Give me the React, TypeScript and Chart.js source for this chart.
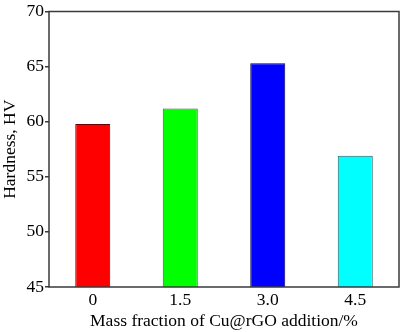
import React, { useEffect, useRef } from "react";
import { Chart, registerables } from "chart.js";

Chart.register(...registerables);

const categories = ["0", "1.5", "3.0", "4.5"];
const hardness = [59.8, 61.2, 65.3, 56.9];
const barColors = ["#ff0000", "#00ff00", "#0000ff", "#00ffff"];
const borderColors = ["#6e0000", "#2a6a2a", "#00005a", "#1f5f5f"];
const yTicks = [45, 50, 55, 60, 65, 70];

const boxPlugin = {
  id: "boxPlugin",
  afterDraw(chart: any) {
    const { ctx, chartArea } = chart;
    ctx.save();
    ctx.strokeStyle = "#3a3a3a";
    ctx.lineWidth = 1.5;
    ctx.strokeRect(chartArea.left, chartArea.top, chartArea.right - chartArea.left, chartArea.bottom - chartArea.top);
    ctx.restore();
  },
};

const font = { family: "Liberation Serif", size: 17.5 };

export default function App() {
  const ref = useRef<HTMLCanvasElement>(null);
  useEffect(() => {
    document.body.style.margin = "0";
    const chart = new Chart(ref.current!, {
      type: "bar",
      data: {
        labels: categories,
        datasets: [
          {
            data: hardness,
            backgroundColor: barColors,
            borderColor: borderColors,
            borderWidth: 1,
            barPercentage: 0.4,
            categoryPercentage: 1,
          },
        ],
      },
      options: {
        animation: false,
        responsive: false,
        layout: { padding: { top: 6, right: 1, left: 0, bottom: 0 } },
        plugins: { legend: { display: false }, tooltip: { enabled: false } },
        scales: {
          x: {
            grid: { display: false, drawTicks: false },
            border: { display: false },
            ticks: { color: "#000", font, padding: 3 },
            title: {
              display: true,
              text: "Mass fraction of Cu@rGO addition/%",
              color: "#000",
              font,
              padding: { top: 0, bottom: 0 },
            },
            afterFit: (s: any) => { s.height = 45; },
          },
          y: {
            min: 45,
            max: 70,
            afterBuildTicks: (s: any) => { s.ticks = yTicks.map((v) => ({ value: v })); },
            grid: { drawOnChartArea: false, drawTicks: true, tickLength: 4, color: "#3a3a3a", lineWidth: 1.5 },
            border: { display: false },
            ticks: { color: "#000", font, padding: 1 },
            title: {
              display: true,
              text: "Hardness, HV",
              color: "#000",
              font,
              padding: { top: 0, bottom: 0 },
            },
            afterFit: (s: any) => { s.width = 49; },
          },
        },
      },
      plugins: [boxPlugin],
    });
    return () => chart.destroy();
  }, []);
  return <canvas ref={ref} width={400} height={332} style={{ display: "block" }} />;
}
